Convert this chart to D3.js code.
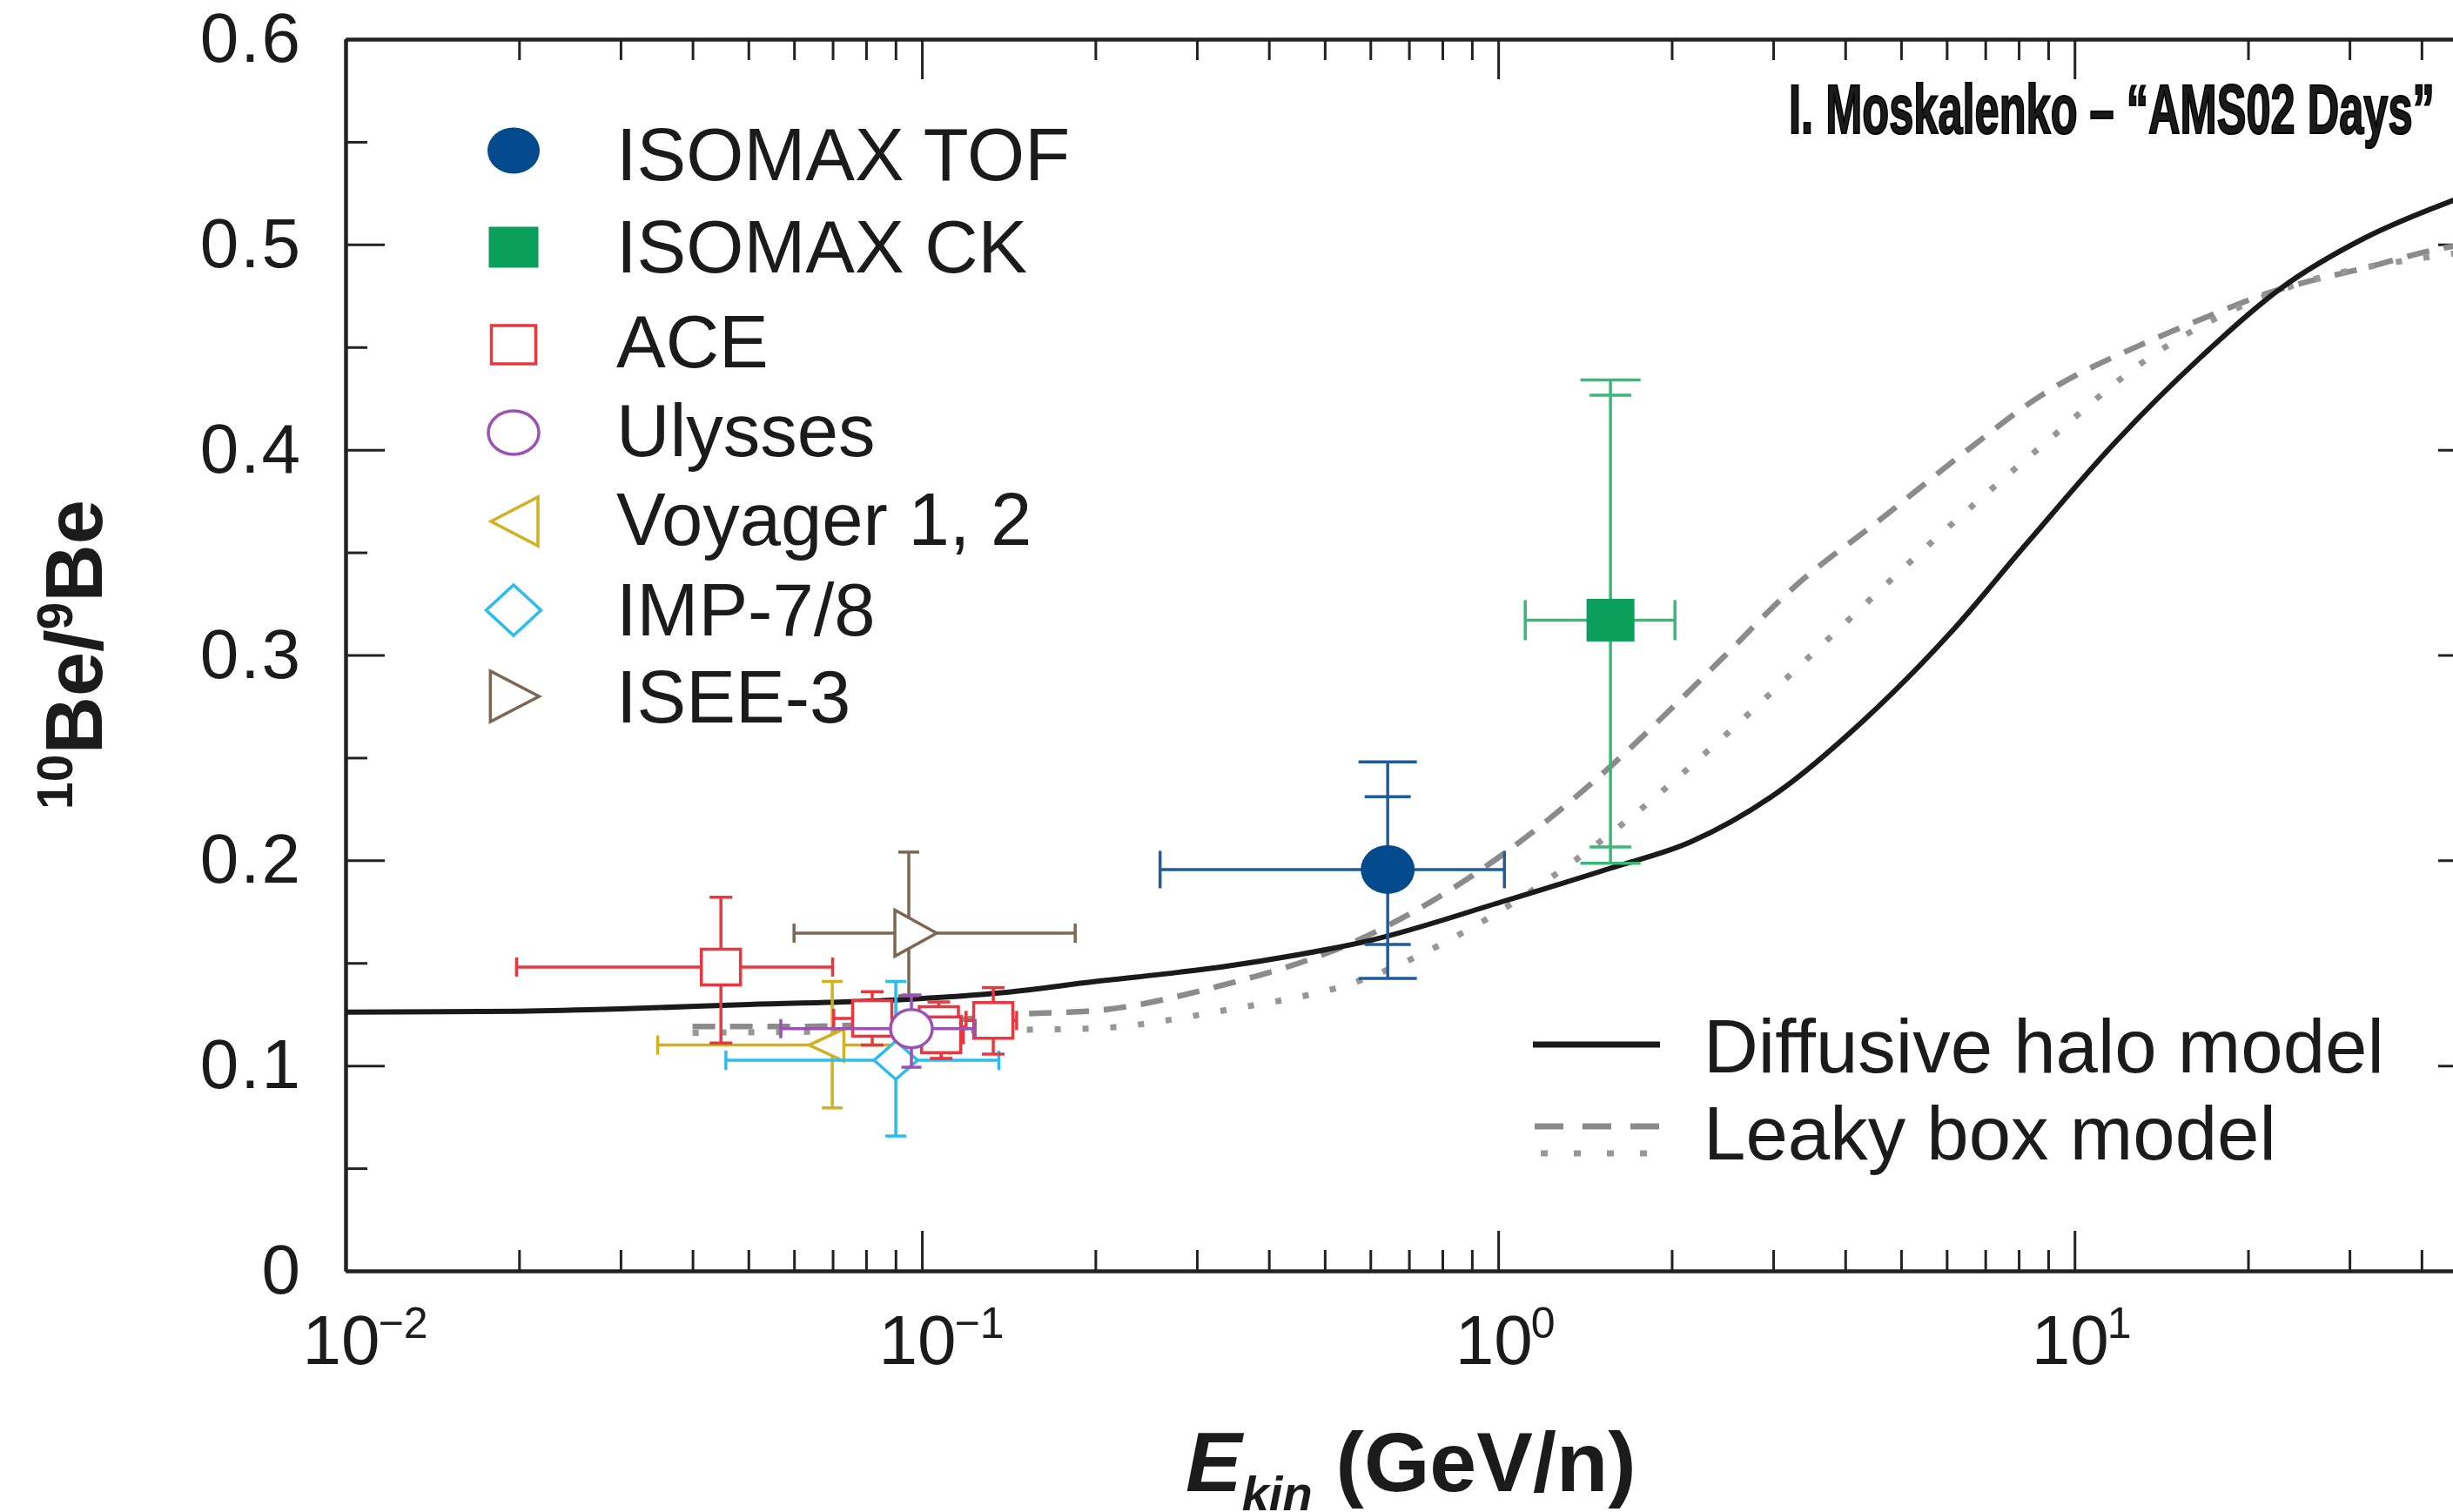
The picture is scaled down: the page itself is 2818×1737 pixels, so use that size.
<!DOCTYPE html>
<html>
<head>
<meta charset="utf-8">
<script src="https://cdn.jsdelivr.net/npm/d3@7"></script>
<style>
  body { margin: 0; background: #fff; overflow: hidden; }
  svg { display: block; }
  text { fill: #1b1b1b; font-family: "Liberation Sans", Arial, sans-serif; }
</style>
</head>
<body>
<div id="chart"></div>
<script>
// ---- data ----
// model curves: kinetic energy (GeV/n) and 10Be/9Be ratio
var haloE = [0.01, 0.02, 0.03, 0.05, 0.09, 0.14, 0.2, 0.28, 0.33, 0.45, 0.6, 1.02, 1.56, 2.16, 3.05, 4.3, 6.1, 8.3, 11.8, 16.4, 22.9, 31.8, 45.5, 50];
var haloV = [0.126, 0.1265, 0.1276, 0.1298, 0.132, 0.1357, 0.141, 0.1455, 0.148, 0.154, 0.161, 0.18, 0.196, 0.209, 0.233, 0.268, 0.311, 0.355, 0.404, 0.444, 0.479, 0.503, 0.5216, 0.526];
var leakyDashE = [0.04, 0.055, 0.1, 0.147, 0.204, 0.32, 0.58, 1.02, 1.57, 1.99, 2.46, 3.23, 4.65, 6.6, 8.7, 13.5, 16.4, 21.5, 33.4, 41.5, 50];
var leakyDashV = [0.119, 0.119, 0.121, 0.125, 0.127, 0.138, 0.162, 0.203, 0.246, 0.2735, 0.299, 0.332, 0.367, 0.401, 0.426, 0.453, 0.463, 0.476, 0.49, 0.497, 0.501];
var leakyDotE = [0.04, 0.1, 0.194, 0.336, 0.583, 0.91, 1.7, 2.39, 3.68, 5.6, 8.7, 13.5, 22.9, 41.5, 50];
var leakyDotV = [0.116, 0.117, 0.118, 0.127, 0.142, 0.168, 0.221, 0.257, 0.306, 0.354, 0.401, 0.445, 0.478, 0.494, 0.497];

// measurements: [E, ratio, E low, E high, ratio low, ratio high, (inner low, inner high)]
var isomaxTof = [[0.643, 0.1955, 0.259, 1.025, 0.1425, 0.248, 0.159, 0.231]];
var isomaxCk  = [[1.566, 0.317, 1.114, 2.026, 0.1985, 0.434, 0.2065, 0.4266]];
var ace = [
  [0.0448, 0.148, 0.0198, 0.070, 0.111, 0.182],
  [0.082, 0.123, 0.0703, 0.0957, 0.110, 0.136],
  [0.107, 0.120, 0.098, 0.117, 0.112, 0.131],
  [0.108, 0.115, 0.100, 0.118, 0.1035, 0.124],
  [0.133, 0.122, 0.1193, 0.146, 0.1056, 0.138]
];
var ulysses = [[0.0959, 0.118, 0.0569, 0.1237, 0.0992, 0.1344]];
var voyager = [[0.0699, 0.110, 0.0348, 0.1118, 0.0794, 0.141]];
var imp = [[0.0901, 0.1026, 0.0457, 0.136, 0.0657, 0.141]];
var isee = [[0.0949, 0.1645, 0.060, 0.1845, 0.134, 0.204]];

var legendLabels = ["ISOMAX TOF", "ISOMAX CK", "ACE", "Ulysses", "Voyager 1, 2", "IMP-7/8", "ISEE-3"];
var legendShapes = ["dot", "block", "square", "circle", "triLeft", "diamond", "triRight"];
var legendColors = ["#024a8c", "#0a9f5b", "#e8373f", "#9c52b3", "#d2b01e", "#2bbdee", "#7c6754"];
var modelLabels = ["Diffusive halo model", "Leaky box model"];

var xTicksMajor = [0.01, 0.1, 1, 10];
var xTickExp = ["\u22122", "\u22121", "0", "1"];
var yTicksMajor = [0, 0.1, 0.2, 0.3, 0.4, 0.5, 0.6];

// ---- layout ----
var W = 2818, H = 1737;
var plotL = 397, plotT = 45, plotR = 2846, plotB = 1460;

var svg = d3.select("#chart").append("svg")
  .attr("width", W).attr("height", H);

var x = d3.scaleLog().domain([0.01, 50]).range([plotL, plotR]);
var y = d3.scaleLinear().domain([0, 0.6]).range([plotB, plotT]);

var xMinor = [];
[0.01, 0.1, 1, 10].forEach(function(d){
  for (var k = 2; k <= 9; k++) { if (d * k <= 50) xMinor.push(d * k); }
});
var yMinor = d3.range(0.05, 0.6, 0.1);

function styleAxis(g){
  g.select(".domain").attr("stroke", "#222").attr("stroke-width", 4);
  g.selectAll(".tick line").attr("stroke", "#222").attr("stroke-width", 3);
}

// minor ticks
svg.append("g").attr("transform", "translate(0," + plotB + ")")
  .call(d3.axisBottom(x).tickValues(xMinor).tickSizeInner(-24).tickSizeOuter(0).tickFormat(""))
  .call(styleAxis);
svg.append("g").attr("transform", "translate(0," + plotT + ")")
  .call(d3.axisTop(x).tickValues(xMinor).tickSizeInner(-24).tickSizeOuter(0).tickFormat(""))
  .call(styleAxis);
svg.append("g").attr("transform", "translate(" + plotL + ",0)")
  .call(d3.axisLeft(y).tickValues(yMinor).tickSizeInner(-25).tickSizeOuter(0).tickFormat(""))
  .call(styleAxis);
svg.append("g").attr("transform", "translate(" + plotR + ",0)")
  .call(d3.axisRight(y).tickValues(yMinor).tickSizeInner(-25).tickSizeOuter(0).tickFormat(""))
  .call(styleAxis);

// major ticks
var xAxis = svg.append("g").attr("transform", "translate(0," + plotB + ")")
  .call(d3.axisBottom(x).tickValues(xTicksMajor).tickSizeInner(-46).tickSizeOuter(0).tickPadding(50).tickFormat(""))
  .call(styleAxis);
xAxis.selectAll(".tick text").each(function(d, i){
  var t = d3.select(this).attr("font-size", 80).attr("font-family", "Liberation Sans, Arial, sans-serif")
    .attr("fill", "#1b1b1b").attr("text-anchor", "start").attr("x", -50);
  t.append("tspan").text("10");
  t.append("tspan").attr("font-size", 50).attr("dy", -30).attr("dx", -2).text(xTickExp[i]);
});
svg.append("g").attr("transform", "translate(0," + plotT + ")")
  .call(d3.axisTop(x).tickValues(xTicksMajor).tickSizeInner(-46).tickSizeOuter(0).tickFormat(""))
  .call(styleAxis);
svg.append("g").attr("transform", "translate(" + plotL + ",0)")
  .call(d3.axisLeft(y).tickValues(yTicksMajor).tickSizeInner(-45).tickSizeOuter(0).tickPadding(50)
    .tickFormat(function(d){ return d === 0 ? "0" : d3.format(".1f")(d); }))
  .call(styleAxis)
  .selectAll(".tick text").attr("font-size", 80).attr("fill", "#1b1b1b")
  .attr("letter-spacing", 2)
  .attr("font-family", "Liberation Sans, Arial, sans-serif");
svg.append("g").attr("transform", "translate(" + plotR + ",0)")
  .call(d3.axisRight(y).tickValues(yTicksMajor).tickSizeInner(-45).tickSizeOuter(0).tickFormat(""))
  .call(styleAxis);

// ---- model curves ----
var plot = svg.append("g");
var line = d3.line().x(function(d){ return x(d[0]); }).y(function(d){ return y(d[1]); })
  .curve(d3.curveMonotoneX);

plot.append("path").datum(d3.zip(leakyDashE, leakyDashV)).attr("d", line)
  .attr("fill", "none").attr("stroke", "#8b8b8b").attr("stroke-width", 6.5)
  .attr("stroke-dasharray", "26,17");
plot.append("path").datum(d3.zip(leakyDotE, leakyDotV)).attr("d", line)
  .attr("fill", "none").attr("stroke", "#979797").attr("stroke-width", 7)
  .attr("stroke-dasharray", "7,25");
plot.append("path").datum(d3.zip(haloE, haloV)).attr("d", line)
  .attr("fill", "none").attr("stroke", "#1a1a1a").attr("stroke-width", 6);

// ---- markers ----
function marker(g, shape, cx, cy, w, h, color){
  var sw = 3.5;
  if (shape === "dot") {
    g.append("ellipse").attr("cx", cx).attr("cy", cy).attr("rx", w/2).attr("ry", h/2).attr("fill", color);
  } else if (shape === "block") {
    g.append("rect").attr("x", cx - w/2).attr("y", cy - h/2).attr("width", w).attr("height", h).attr("fill", color);
  } else if (shape === "square") {
    g.append("rect").attr("x", cx - w/2).attr("y", cy - h/2).attr("width", w).attr("height", h)
      .attr("fill", "#fff").attr("stroke", color).attr("stroke-width", sw);
  } else if (shape === "circle") {
    g.append("ellipse").attr("cx", cx).attr("cy", cy).attr("rx", w/2).attr("ry", h/2)
      .attr("fill", "#fff").attr("stroke", color).attr("stroke-width", sw);
  } else {
    var pts;
    if (shape === "triLeft") pts = [[cx - w*2/3, cy], [cx + w/3, cy - h/2], [cx + w/3, cy + h/2]];
    else if (shape === "triRight") pts = [[cx + w*2/3, cy], [cx - w/3, cy - h/2], [cx - w/3, cy + h/2]];
    else pts = [[cx, cy - h/2], [cx + w/2, cy], [cx, cy + h/2], [cx - w/2, cy]];
    g.append("polygon").attr("points", pts.map(function(p){ return p.join(","); }).join(" "))
      .attr("fill", "#fff").attr("stroke", color).attr("stroke-width", sw).attr("stroke-linejoin", "miter");
  }
}

function errorBars(g, rows, color, capW, capH, innerCapW){
  rows.forEach(function(r){
    var px = x(r[0]), py = y(r[1]);
    var e = g.append("g").attr("stroke", color).attr("stroke-width", 3.5).attr("fill", "none");
    e.append("line").attr("x1", x(r[2])).attr("x2", x(r[3])).attr("y1", py).attr("y2", py);
    e.append("line").attr("x1", px).attr("x2", px).attr("y1", y(r[4])).attr("y2", y(r[5]));
    [r[2], r[3]].forEach(function(v){
      e.append("line").attr("x1", x(v)).attr("x2", x(v)).attr("y1", py - capH/2).attr("y2", py + capH/2);
    });
    [r[4], r[5]].forEach(function(v){
      e.append("line").attr("x1", px - capW/2).attr("x2", px + capW/2).attr("y1", y(v)).attr("y2", y(v));
    });
    if (r.length > 6) {
      [r[6], r[7]].forEach(function(v){
        e.append("line").attr("x1", px - innerCapW/2).attr("x2", px + innerCapW/2).attr("y1", y(v)).attr("y2", y(v));
      });
    }
  });
}

function series(rows, shapeIdx, w, h, barColor, capW, capH, innerCapW){
  var g = plot.append("g");
  errorBars(g, rows, barColor || legendColors[shapeIdx], capW, capH, innerCapW);
  rows.forEach(function(r){
    marker(g, legendShapes[shapeIdx], x(r[0]), y(r[1]), w, h, legendColors[shapeIdx]);
  });
}

series(voyager, 4, 40, 37, null, 24, 22);
series(imp, 5, 50, 44, null, 24, 22);
series(isee, 6, 48, 53, null, 24, 22);
series(ace, 2, 45, 41, null, 26, 22);
series(ulysses, 3, 48, 44, null, 23, 22);
series(isomaxTof, 0, 62, 56, "#1f5c9f", 67, 43, 53);
series(isomaxCk, 1, 55, 49, "#3bb77a", 69, 46, 48);

// ---- legend (data sets) ----
var legend = svg.append("g");
var legendSizes = [[60, 53], [57, 47], [51, 44], [58, 50], [54, 56], [63, 58], [56, 58]];
var legendRowY = [173, 284, 396, 497, 599, 701, 800];
var legendTextY = [207, 313, 422, 524, 626, 730, 830];
legendLabels.forEach(function(lab, i){
  var cy = legendRowY[i];
  var cx = legendShapes[i] === "triLeft" ? 600 : (legendShapes[i] === "triRight" ? 582 : 590);
  marker(legend, legendShapes[i], cx, cy, legendSizes[i][0], legendSizes[i][1], legendColors[i]);
  legend.append("text").attr("x", 708).attr("y", legendTextY[i])
    .attr("font-size", 85).text(lab);
});

// ---- legend (models) ----
var mleg = svg.append("g");
mleg.append("line").attr("x1", 1761).attr("x2", 1907).attr("y1", 1200).attr("y2", 1200)
  .attr("stroke", "#1a1a1a").attr("stroke-width", 7);
mleg.append("line").attr("x1", 1763).attr("x2", 1907).attr("y1", 1294).attr("y2", 1294)
  .attr("stroke", "#8b8b8b").attr("stroke-width", 7).attr("stroke-dasharray", "33,22");
mleg.append("line").attr("x1", 1770).attr("x2", 1907).attr("y1", 1325).attr("y2", 1325)
  .attr("stroke", "#979797").attr("stroke-width", 7).attr("stroke-dasharray", "8,30");
mleg.append("text").attr("x", 1957).attr("y", 1232).attr("font-size", 87).text(modelLabels[0]);
mleg.append("text").attr("x", 1957).attr("y", 1332).attr("font-size", 87).text(modelLabels[1]);

// ---- axis titles ----
var xt = svg.append("text").attr("x", 1362).attr("y", 1713)
  .attr("font-size", 97).attr("font-weight", "bold");
xt.append("tspan").attr("font-style", "italic").text("E");
xt.append("tspan").attr("font-style", "italic").attr("font-size", 56).attr("dy", 22).text("kin");
xt.append("tspan").attr("dy", -22).text(" (GeV/n)");

var yt = svg.append("text").attr("transform", "translate(117,752) rotate(-90)")
  .attr("text-anchor", "middle").attr("font-size", 92).attr("font-weight", "bold");
yt.append("tspan").attr("font-size", 57).attr("dy", -34).text("10");
yt.append("tspan").attr("dy", 34).text("Be/");
yt.append("tspan").attr("font-size", 57).attr("dy", -34).text("9");
yt.append("tspan").attr("dy", 34).text("Be");

// ---- credit line (squeezed to the width it has in the figure) ----
var credit = svg.append("text")
  .attr("font-family", "Liberation Sans Narrow, DejaVu Sans Condensed, sans-serif")
  .attr("font-weight", "bold").attr("font-size", 79)
  .attr("fill", "#000").attr("stroke", "#000").attr("stroke-width", 2.2)
  .text("I. Moskalenko \u2013 \u201cAMS02 Days\u201d");
var creditW = credit.node().getComputedTextLength();
credit.attr("transform", "translate(2055,153) scale(" + (742 / creditW) + ",1)");
</script>
</body>
</html>
